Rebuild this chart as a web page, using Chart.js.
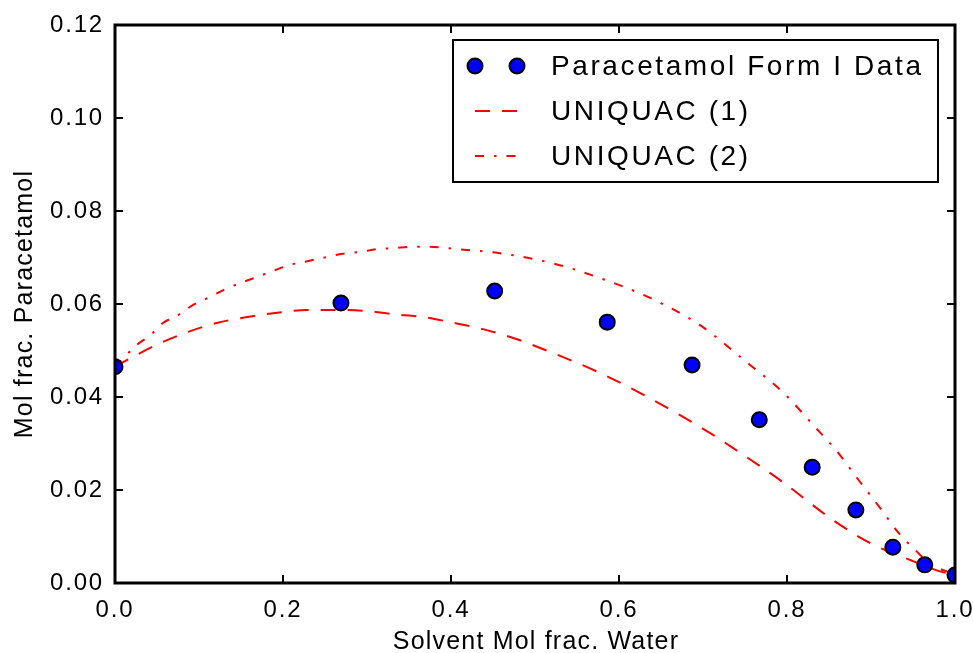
<!DOCTYPE html>
<html>
<head>
<meta charset="utf-8">
<script src="https://cdn.jsdelivr.net/npm/chart.js@4/dist/chart.umd.min.js"></script>
<style>
  html, body { margin: 0; padding: 0; background: #fff; }
  #wrap { width: 973px; height: 653px; }
</style>
</head>
<body>
<div id="wrap"><canvas id="chart"></canvas></div>
<script>
"use strict";

// measured points
const dataX = [0.0, 0.269, 0.452, 0.586, 0.687, 0.767, 0.830, 0.882, 0.926, 0.964, 1.0];
const dataY = [0.0465, 0.0602, 0.0628, 0.0561, 0.0469, 0.0351, 0.0249, 0.0157, 0.0077, 0.0039, 0.0017];

// UNIQUAC (1) curve
const uq1X = [0.0, 0.021, 0.054, 0.087, 0.121, 0.157, 0.193, 0.228, 0.268, 0.300, 0.331, 0.367, 0.399, 0.438,
  0.474, 0.518, 0.577, 0.637, 0.708, 0.736, 0.795, 0.855, 0.902, 0.935, 0.964, 0.982, 1.0];
const uq1Y = [0.0465, 0.0486, 0.0516, 0.0540, 0.0559, 0.0572, 0.0581, 0.0587, 0.0587, 0.0585, 0.0578, 0.0572, 0.0561, 0.0546,
  0.0527, 0.0497, 0.0452, 0.0397, 0.0323, 0.0290, 0.0217, 0.0135, 0.0083, 0.0058, 0.0037, 0.0025, 0.0018];

// UNIQUAC (2) curve
const uq2X = [0.0, 0.026, 0.042, 0.057, 0.075, 0.093, 0.113, 0.129, 0.149, 0.169, 0.188, 0.208, 0.229, 0.252, 0.271,
  0.292, 0.312, 0.331, 0.355, 0.375, 0.395, 0.419, 0.455, 0.520, 0.577, 0.637, 0.696, 0.756, 0.788, 0.804, 0.831,
  0.860, 0.885, 0.911, 0.935, 0.950, 0.970, 1.0];
const uq2Y = [0.0465, 0.0512, 0.0533, 0.0559, 0.0576, 0.0598, 0.0615, 0.0630, 0.0645, 0.0658, 0.0671, 0.0684, 0.0692, 0.0701, 0.0708,
  0.0712, 0.0718, 0.0720, 0.0723, 0.0723, 0.0720, 0.0716, 0.0710, 0.0688, 0.0656, 0.0613, 0.0555, 0.0469, 0.0422, 0.0394, 0.0340,
  0.0282, 0.0222, 0.0161, 0.0103, 0.0076, 0.0042, 0.0018];

const xTicks = [0.0, 0.2, 0.4, 0.6, 0.8, 1.0];
const yTicks = [0.00, 0.02, 0.04, 0.06, 0.08, 0.10, 0.12];

const labels = ["Paracetamol Form I Data", "UNIQUAC (1)", "UNIQUAC (2)"];
const xTitle = "Solvent Mol frac. Water";
const yTitle = "Mol frac. Paracetamol";

const FONT = "'Liberation Sans', Arial, Helvetica, sans-serif";
const RED = "#ff0000";
const BLUE = "#0000ff";

const zip = (xs, ys) => xs.map((x, i) => ({ x, y: ys[i] }));

// frame, inward ticks, titles and boxed legend
const decor = {
  id: "decor",
  beforeUpdate(chart) { chart.ctx.letterSpacing = "1.8px"; },
  beforeDraw(chart) { chart.ctx.letterSpacing = "1.8px"; },
  afterDatasetsDraw(chart) {
    const { ctx, chartArea: a, scales } = chart;
    ctx.save();
    ctx.strokeStyle = "#000";
    ctx.lineWidth = 2;
    ctx.beginPath();
    for (const v of xTicks) {
      const px = Math.round(scales.x.getPixelForValue(v));
      ctx.moveTo(px, a.bottom); ctx.lineTo(px, a.bottom - 8);
      ctx.moveTo(px, a.top); ctx.lineTo(px, a.top + 8);
    }
    for (const v of yTicks) {
      const py = Math.round(scales.y.getPixelForValue(v));
      ctx.moveTo(a.left, py); ctx.lineTo(a.left + 8, py);
      ctx.moveTo(a.right, py); ctx.lineTo(a.right - 8, py);
    }
    ctx.stroke();
    ctx.lineWidth = 3;
    ctx.strokeRect(a.left, a.top, a.right - a.left, a.bottom - a.top);

    // axis titles
    ctx.fillStyle = "#000";
    ctx.letterSpacing = "1.2px";
    ctx.font = "25px " + FONT;
    ctx.textAlign = "center";
    ctx.textBaseline = "alphabetic";
    ctx.fillText(xTitle, (a.left + a.right) / 2 + 1, 649);
    ctx.save();
    ctx.translate(32, (a.top + a.bottom) / 2);
    ctx.rotate(-Math.PI / 2);
    ctx.fillText(yTitle, 0, 0);
    ctx.restore();

    // legend
    const box = { l: 453, t: 40, r: 938, b: 182 };
    ctx.fillStyle = "#fff";
    ctx.fillRect(box.l, box.t, box.r - box.l, box.b - box.t);
    ctx.lineWidth = 2;
    ctx.strokeStyle = "#000";
    ctx.strokeRect(box.l, box.t, box.r - box.l, box.b - box.t);
    const rows = [66, 111, 156];
    chart.data.datasets.forEach((ds, i) => {
      const y = rows[i];
      if (ds.showLine) {
        ctx.save();
        ctx.strokeStyle = ds.borderColor;
        ctx.lineWidth = 2;
        ctx.setLineDash(ds.borderDash);
        ctx.beginPath();
        ctx.moveTo(475, y); ctx.lineTo(518, y);
        ctx.stroke();
        ctx.restore();
      } else {
        for (const cx of [475, 517]) {
          ctx.beginPath();
          ctx.arc(cx, y, ds.pointRadius, 0, Math.PI * 2);
          ctx.fillStyle = ds.backgroundColor;
          ctx.fill();
          ctx.lineWidth = ds.borderWidth;
          ctx.strokeStyle = ds.borderColor;
          ctx.stroke();
        }
      }
      ctx.fillStyle = "#000";
      ctx.font = "28px " + FONT;
      ctx.letterSpacing = "2.6px";
      ctx.textAlign = "left";
      ctx.textBaseline = "middle";
      ctx.fillText(ds.label, 551, y + 1);
    });
    ctx.restore();
  },
};

new Chart(document.getElementById("chart"), {
  type: "scatter",
  data: {
    datasets: [
      {
        label: labels[0], data: zip(dataX, dataY), order: 0, clip: 0,
        backgroundColor: BLUE, borderColor: "#000", borderWidth: 2, pointRadius: 7.5, pointHoverRadius: 7.5,
      },
      {
        label: labels[1], data: zip(uq1X, uq1Y), order: 1, clip: 0, showLine: true,
        borderColor: RED, borderWidth: 2, borderDash: [15, 12], pointRadius: 0, cubicInterpolationMode: "monotone",
      },
      {
        label: labels[2], data: zip(uq2X, uq2Y), order: 2, clip: 0, showLine: true,
        borderColor: RED, borderWidth: 2, borderDash: [9, 10, 2.5, 10], pointRadius: 0, cubicInterpolationMode: "monotone",
      },
    ],
  },
  options: {
    responsive: true,
    maintainAspectRatio: false,
    animation: false,
    events: [],
    layout: { padding: { left: 0, top: 25, right: 18, bottom: 0 } },
    plugins: { legend: { display: false }, tooltip: { enabled: false } },
    scales: {
      x: {
        type: "linear", min: 0, max: 1,
        grid: { display: false, drawTicks: false }, border: { display: false },
        afterBuildTicks: (s) => { s.ticks = xTicks.map(v => ({ value: v })); },
        afterFit: (s) => { s.height = 70; s.paddingLeft = 0; s.paddingRight = 0; },
        ticks: { color: "#000", padding: 13, maxRotation: 0, font: { family: FONT, size: 24 }, callback: (v) => v.toFixed(1) },
      },
      y: {
        type: "linear", min: 0, max: 0.12,
        grid: { display: false, drawTicks: false }, border: { display: false },
        afterBuildTicks: (s) => { s.ticks = yTicks.map(v => ({ value: v })); },
        afterFit: (s) => { s.width = 115; s.paddingTop = 0; s.paddingBottom = 0; },
        ticks: { color: "#000", padding: 11, font: { family: FONT, size: 24 }, callback: (v) => v.toFixed(2) },
      },
    },
  },
  plugins: [decor],
});
</script>
</body>
</html>
